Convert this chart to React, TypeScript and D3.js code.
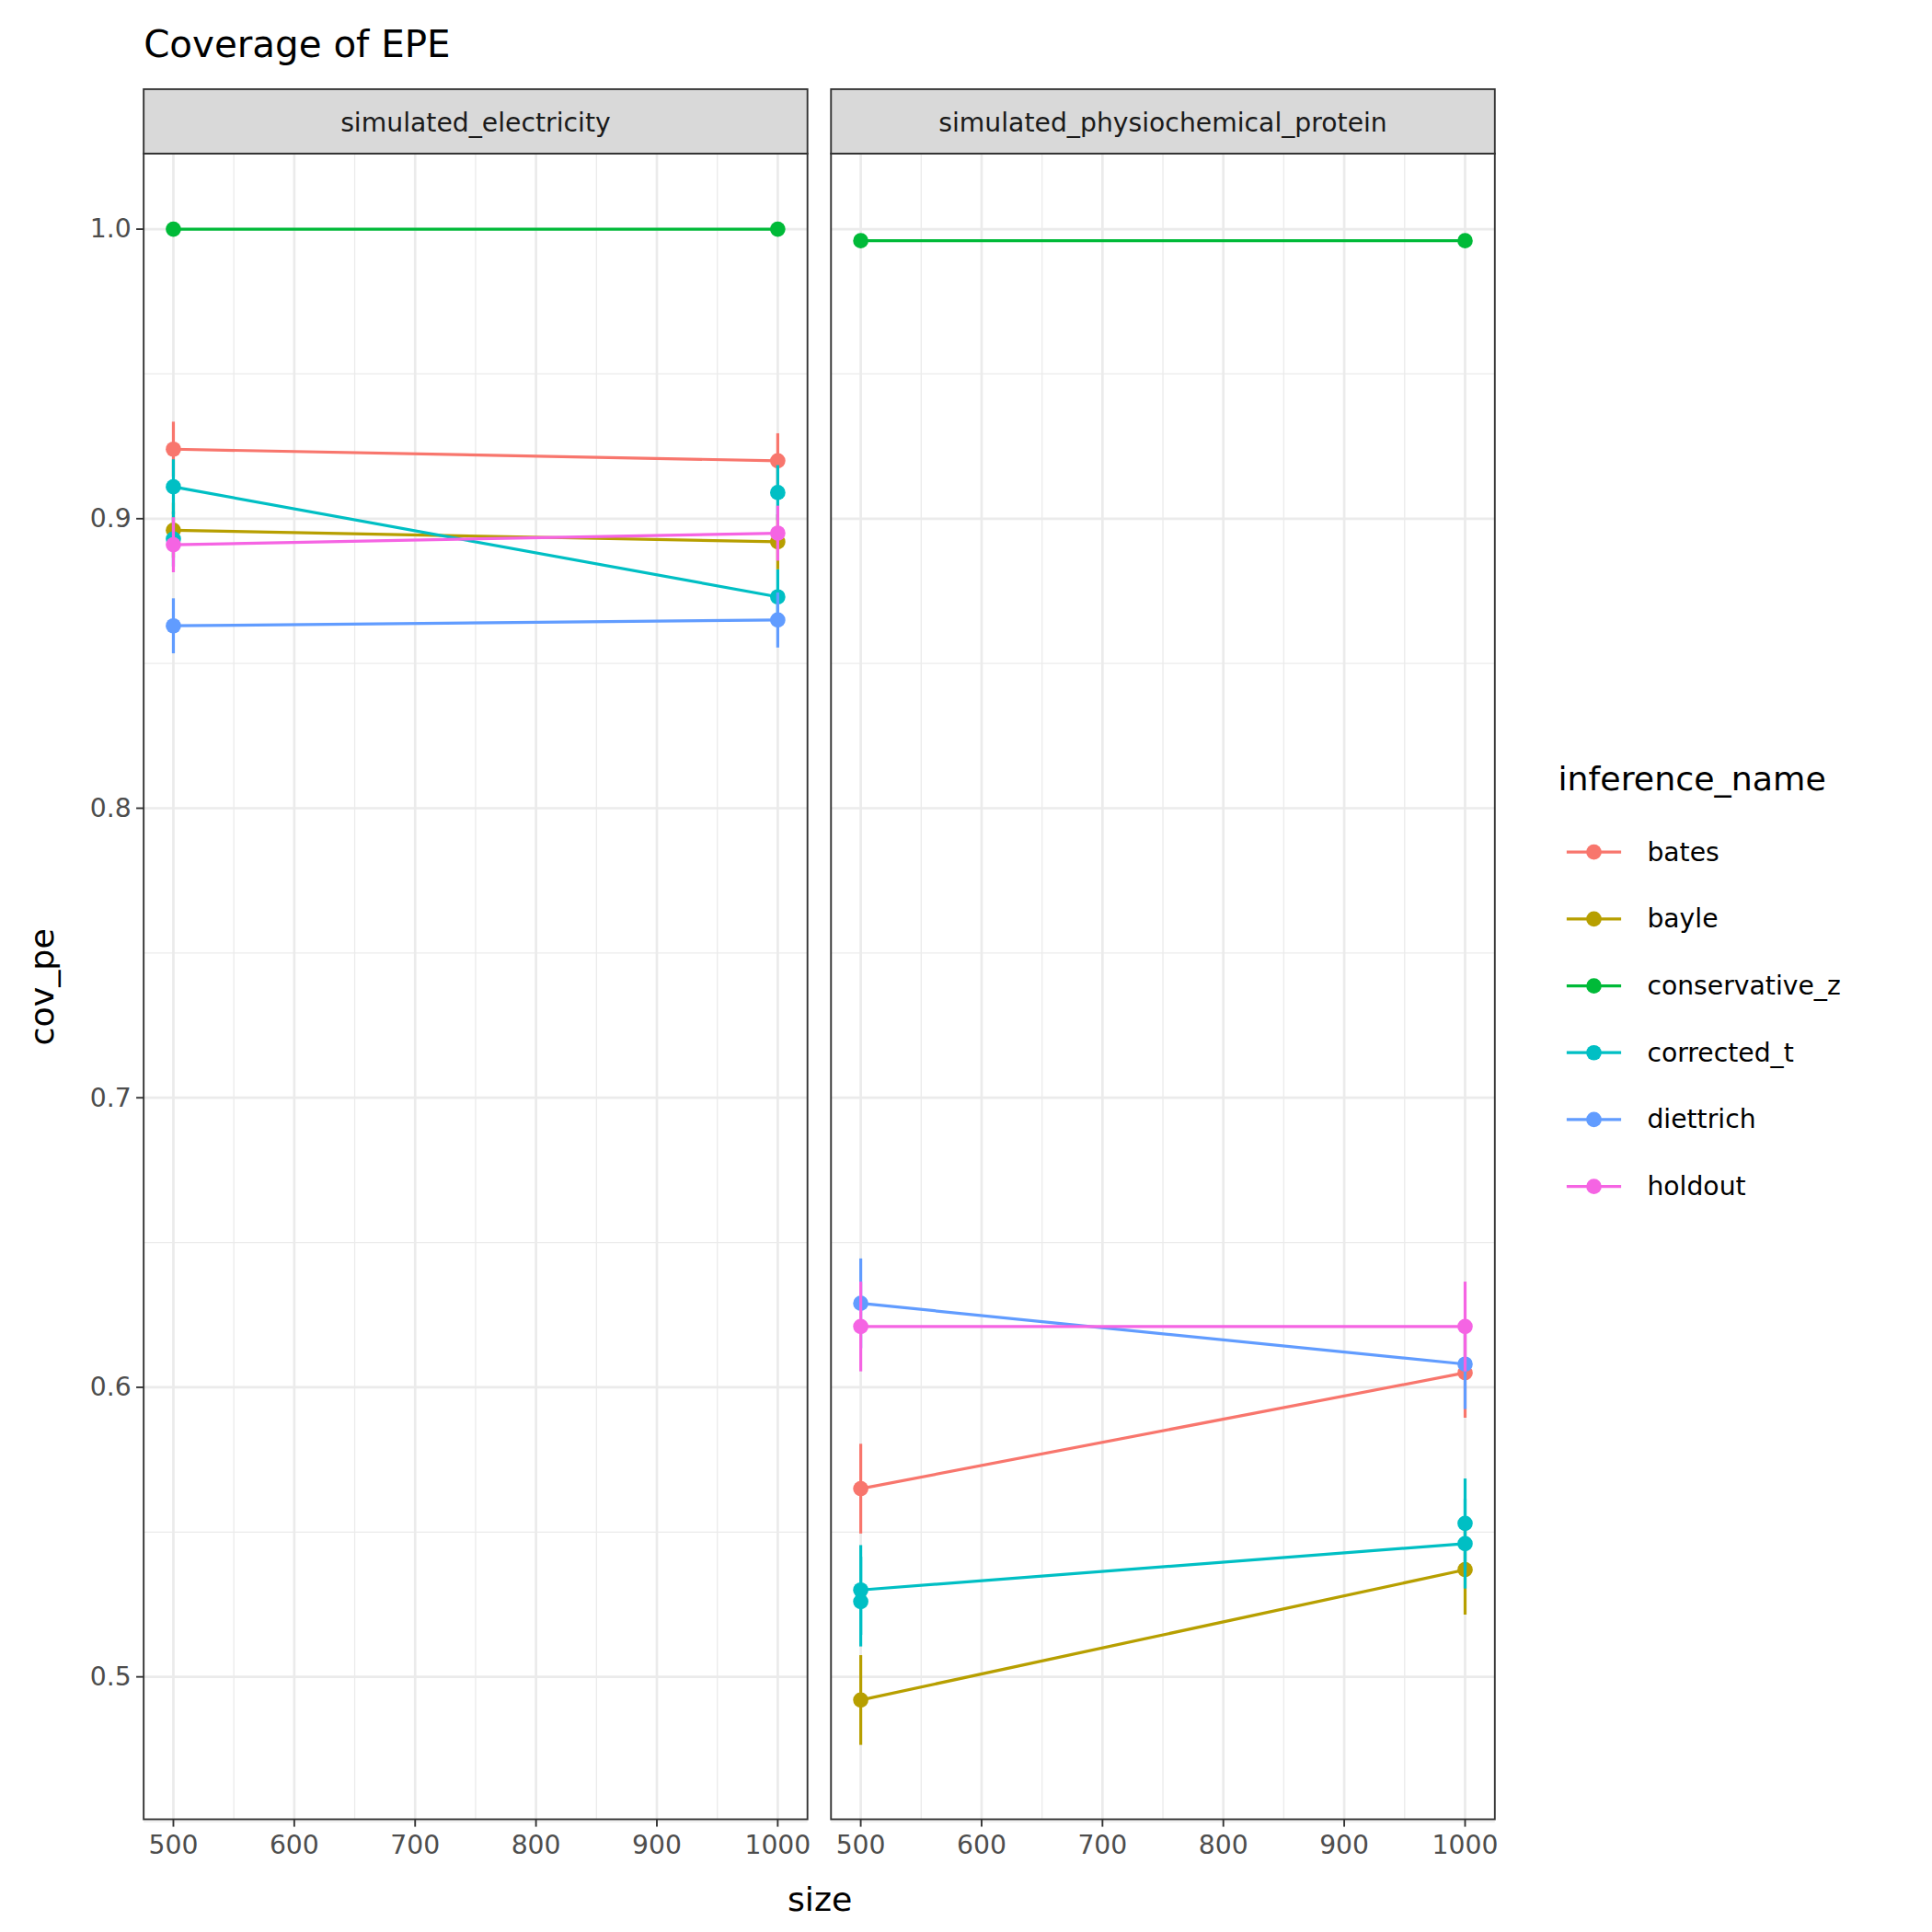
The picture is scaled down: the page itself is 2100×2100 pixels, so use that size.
import React from "react";
import * as d3 from "d3";

const panels = ["simulated_electricity", "simulated_physiochemical_protein"];
const series = ["bates", "bayle", "conservative_z", "corrected_t", "diettrich", "holdout"];
const colors = ["#F8766D", "#B79F00", "#00BA38", "#00BFC4", "#619CFF", "#F564E3"];
const sizes = [500, 1000];
// values[panel][series] = [v500, v1000]
const lineVals = [
  [[0.924, 0.920], [0.896, 0.892], [1.0, 1.0], [0.911, 0.873], [0.863, 0.865], [0.891, 0.895]],
  [[0.565, 0.605], [0.492, 0.537], [0.996, 0.996], [0.530, 0.546], [0.629, 0.608], [0.621, 0.621]],
];
// extra corrected_t points
const extraVals = [
  [0.893, 0.909],
  [0.526, 0.553],
];
const errHalf = [0.0095, 0.0155];
const yTicks = [0.5, 0.6, 0.7, 0.8, 0.9, 1.0];
const yMinor = [0.45, 0.55, 0.65, 0.75, 0.85, 0.95];
const xTicks = [500, 600, 700, 800, 900, 1000];
const xMinor = [550, 650, 750, 850, 950];

export default function App() {
  const top = 124, bottom = 1469;
  const panelX = [[116, 652], [671, 1207]];
  const y = d3.scaleLinear().domain([0.4508, 1.0261]).range([bottom, top]);
  const font = "DejaVu Sans, sans-serif";
  const lw = 2.4, pr = 6.2;
  return (
    <svg width={2100} height={2100} viewBox="0 0 1560 1560" style={{ display: "block", position: "absolute", left: 0, top: 0 }} fontFamily={font}>
      <rect width={1560} height={1560} fill="#fff" />
      <text x={116} y={46} fontSize={30} fill="#000">Coverage of EPE</text>
      {panels.map((p, pi) => {
        const [l, r] = panelX[pi];
        const x = d3.scaleLinear().domain([475.4, 1024.6]).range([l, r]);
        const line = d3.line<number>().x((_, i) => x(sizes[i])).y((v) => y(v));
        return (
          <g key={p}>
            {yMinor.map((t) => <line key={"ym" + t} x1={l} x2={r} y1={y(t)} y2={y(t)} stroke="#ebebeb" strokeWidth={1} />)}
            {xMinor.map((t) => <line key={"xm" + t} x1={x(t)} x2={x(t)} y1={top} y2={bottom} stroke="#ebebeb" strokeWidth={1} />)}
            {yTicks.map((t) => <line key={"y" + t} x1={l} x2={r} y1={y(t)} y2={y(t)} stroke="#ebebeb" strokeWidth={2} />)}
            {xTicks.map((t) => <line key={"x" + t} x1={x(t)} x2={x(t)} y1={top} y2={bottom} stroke="#ebebeb" strokeWidth={2} />)}
            {series.map((s, si) => {
              const vals = lineVals[pi][si];
              return (
                <g key={s}>
                  {si !== 2 && vals.map((v, i) => (
                    <line key={i} x1={x(sizes[i])} x2={x(sizes[i])} y1={y(v - errHalf[pi])} y2={y(v + errHalf[pi])} stroke={colors[si]} strokeWidth={lw} />
                  ))}
                  <path d={line(vals) || ""} fill="none" stroke={colors[si]} strokeWidth={lw} />
                  {vals.map((v, i) => <circle key={"c" + i} cx={x(sizes[i])} cy={y(v)} r={pr} fill={colors[si]} />)}
                  {si === 3 && extraVals[pi].map((v, i) => (
                    <g key={"e" + i}>
                      <line x1={x(sizes[i])} x2={x(sizes[i])} y1={y(v - errHalf[pi])} y2={y(v + errHalf[pi])} stroke={colors[si]} strokeWidth={lw} />
                      <circle cx={x(sizes[i])} cy={y(v)} r={pr} fill={colors[si]} />
                    </g>
                  ))}
                </g>
              );
            })}
            <rect x={l} y={top} width={r - l} height={bottom - top} fill="none" stroke="#333" strokeWidth={1.4} />
            <rect x={l} y={72} width={r - l} height={52} fill="#d9d9d9" stroke="#333" strokeWidth={1.4} />
            <text x={(l + r) / 2} y={106} fontSize={21} fill="#1a1a1a" textAnchor="middle">{p}</text>
            {xTicks.map((t) => (
              <g key={"xt" + t}>
                <line x1={x(t)} x2={x(t)} y1={bottom} y2={bottom + 6} stroke="#333" strokeWidth={1.4} />
                <text x={x(t)} y={bottom + 28} fontSize={21} fill="#4d4d4d" textAnchor="middle">{t}</text>
              </g>
            ))}
          </g>
        );
      })}
      {yTicks.map((t) => (
        <g key={"yt" + t}>
          <line x1={110} x2={116} y1={y(t)} y2={y(t)} stroke="#333" strokeWidth={1.4} />
          <text x={106} y={y(t) + 7} fontSize={21} fill="#4d4d4d" textAnchor="end">{t.toFixed(1)}</text>
        </g>
      ))}
      <text x={662} y={1543} fontSize={27} textAnchor="middle" fill="#000">size</text>
      <text transform="translate(43,797) rotate(-90)" fontSize={27} textAnchor="middle" fill="#000">cov_pe</text>
      <text x={1258} y={638} fontSize={27} fill="#000">inference_name</text>
      {series.map((s, i) => {
        const yy = 688 + i * 54;
        return (
          <g key={"lg" + s}>
            <line x1={1265} x2={1309} y1={yy} y2={yy} stroke={colors[i]} strokeWidth={lw} />
            <circle cx={1287} cy={yy} r={pr} fill={colors[i]} />
            <text x={1330} y={yy + 7} fontSize={21} fill="#000">{s}</text>
          </g>
        );
      })}
    </svg>
  );
}
